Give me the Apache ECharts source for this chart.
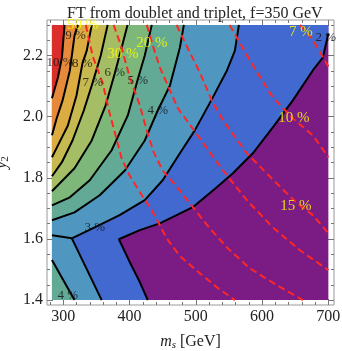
<!DOCTYPE html>
<html>
<head>
<meta charset="utf-8">
<script src="https://cdn.jsdelivr.net/npm/echarts@6/dist/echarts.min.js"></script>
<style>
html, body { margin: 0; padding: 0; background: #fff; }
#chart { width: 342px; height: 351px; }
</style>
</head>
<body>
<div id="chart"></div>
<script>
var chart = echarts.init(document.getElementById('chart'));
var serif = 'Liberation Serif';

// plot range and frame
var msRange = [283, 700];
var y2Range = [1.4, 2.3];
var frameMs = [275.5, 708.5];
var frameY2 = [1.384, 2.316];

// ticks
var msMajor = [300, 400, 500, 600, 700];
var msMinor = [280, 320, 340, 360, 380, 420, 440, 460, 480, 520, 540, 560, 580, 620, 640, 660, 680];
var y2Major = [1.4, 1.6, 1.8, 2.0, 2.2];
var y2Minor = [1.45, 1.5, 1.55, 1.65, 1.7, 1.75, 1.85, 1.9, 1.95, 2.05, 2.1, 2.15, 2.25, 2.3];

// FT contours (black), [m_s, y_2]
var ft10 = [[302, 2.3], [298, 2.193], [292, 2.128], [283, 2.06]];
var ft9 = [[322, 2.3], [317, 2.265], [310, 2.151], [299, 2.053], [290, 1.994], [283, 1.939]];
var ft8 = [[343, 2.3], [335.5, 2.216], [329, 2.174], [320, 2.069], [307, 1.971], [292, 1.906], [283, 1.867]];
var ft7 = [[367, 2.3], [356.6, 2.2], [344.5, 2.112], [331, 2.02], [314, 1.922], [298, 1.851], [283, 1.805]];
var ft6 = [[397, 2.3], [387, 2.216], [377.7, 2.141], [364, 2.037], [343, 1.922], [317, 1.831], [283, 1.756]];
var ft5 = [[433.6, 2.3], [423, 2.2], [412.5, 2.122], [397.4, 2.004], [373, 1.89], [340, 1.792], [310, 1.736], [283, 1.71]];
var ft4 = [[482, 2.3], [476, 2.226], [461, 2.102], [442.6, 2.02], [423, 1.922], [393, 1.824], [355, 1.743], [317, 1.687], [283, 1.661]];
var ft3 = [[565, 2.3], [559, 2.216], [547, 2.151], [525.7, 2.063], [498.5, 1.955], [476, 1.88], [450, 1.792], [423, 1.727], [385, 1.678], [347.5, 1.638], [313, 1.602], [358, 1.4]];
var ft3Left = [[283, 1.612], [313, 1.602]];
var ft2 = [[700, 2.272], [691.6, 2.193], [676.5, 2.151], [646.4, 2.053], [616.2, 1.965], [586, 1.88], [556, 1.815], [531.7, 1.769], [495.5, 1.704], [445.7, 1.651], [415.5, 1.629], [384, 1.599], [400.4, 1.524], [415.5, 1.459], [427.5, 1.4]];
var ft4Corner = [[283, 1.531], [317, 1.4]];

// second FT measure (red dashed)
var red50 = [[334, 2.3], [344.5, 2.197], [359.6, 2.109], [370, 2.011], [381, 1.922], [388, 1.864], [400, 1.808], [418.5, 1.743], [433.6, 1.694], [445.7, 1.645], [456, 1.602], [476, 1.544], [506, 1.488], [531.7, 1.442], [559, 1.4]];
var red30 = [[376, 2.3], [387, 2.233], [400.4, 2.128], [415.5, 2.037], [426, 1.955], [436.6, 1.883], [450, 1.824], [473, 1.766], [495.5, 1.704], [521, 1.635], [548, 1.57], [581.5, 1.504], [622, 1.449], [661.5, 1.4]];
var red20 = [[426, 2.3], [435, 2.233], [445.7, 2.161], [461, 2.086], [473, 2.027], [506, 1.929], [541, 1.824], [577, 1.727], [616, 1.638], [657, 1.563], [700, 1.498]];
var red15 = [[471, 2.3], [488, 2.223], [506, 2.145], [524, 2.053], [541, 1.988], [577, 1.88], [622, 1.782], [652.5, 1.717], [676.5, 1.678], [700, 1.619]];
var red10 = [[551, 2.3], [581.5, 2.184], [616, 2.063], [646.4, 1.994], [676.5, 1.939], [700, 1.867]];
var red7 = [[657, 2.3], [675, 2.256], [700, 2.164]];

// contour labels: text, m_s, y_2
var ftLabels = [
  ['10 %', 295, 2.177], ['9 %', 318.6, 2.265], ['8 %', 328.7, 2.174], ['7 %', 344.5, 2.112],
  ['6 %', 377.7, 2.143], ['5 %', 412.5, 2.118], ['4 %', 442.6, 2.02], ['3 %', 347.5, 1.638],
  ['2 %', 696, 2.259], ['4 %', 306.8, 1.416]
];
var redLabels = [
  ['50 %', 329.4, 2.301], ['30 %', 389.8, 2.203], ['20 %', 433.6, 2.242],
  ['7 %', 658.5, 2.275], ['10 %', 648, 1.994], ['15 %', 651, 1.707]
];

// band colours, low to high
var bandColors = ['#7a1c84', '#4169cf', '#4f97c0', '#62aa96', '#7db87a', '#a5be65', '#c6b94f', '#dcab42', '#e6893a', '#db2d29'];

var topLeft = [msRange[0], y2Range[1]];
var botLeft = [msRange[0], y2Range[0]];
var regions = [
  [[msRange[0], y2Range[0]], [msRange[1], y2Range[0]], [msRange[1], y2Range[1]], topLeft],
  [[msRange[1], y2Range[1]]].concat(ft2, [botLeft, topLeft]),
  ft3.concat([botLeft, topLeft]),
  ft4.concat([topLeft]),
  ft5.concat([topLeft]),
  ft6.concat([topLeft]),
  ft7.concat([topLeft]),
  ft8.concat([topLeft]),
  ft9.concat([topLeft]),
  ft10.concat([topLeft])
];

function region(points, color) {
  return {
    type: 'custom', silent: true, z: 1, data: [0],
    renderItem: function (params, api) {
      return {
        type: 'polygon',
        shape: { points: points.map(function (p) { return api.coord(p); }) },
        style: { fill: color }
      };
    }
  };
}
function contour(points) {
  return { type: 'line', data: points, symbol: 'none', silent: true, z: 3,
    lineStyle: { color: '#000', width: 2 } };
}
function dashed(points) {
  return { type: 'line', data: points, symbol: 'none', silent: true, z: 4,
    lineStyle: { color: '#ff2626', width: 2, type: [7, 4] } };
}
function labels(list, color, size) {
  return {
    type: 'scatter', symbolSize: 0, silent: true, z: 6,
    data: list.map(function (l) { return { name: l[0], value: [l[1], l[2]] }; }),
    label: { show: true, position: 'inside', formatter: '{b}', color: color,
      fontFamily: serif, fontSize: size }
  };
}

var series = [];
regions.forEach(function (pts, i) {
  series.push(region(pts, bandColors[i]));
  if (i === 3) series.push(region([ft4Corner[0], ft4Corner[1], botLeft], bandColors[3]));
});
[ft10, ft9, ft8, ft7, ft6, ft5, ft4, ft3, ft3Left, ft2, ft4Corner].forEach(function (c) {
  series.push(contour(c));
});
[red50, red30, red20, red15, red10, red7].forEach(function (c) {
  series.push(dashed(c));
});
series.push(labels(ftLabels, '#111', 13));
series.push(labels(redLabels, '#ffff00', 15));

function tickAxis(kind, pos, vals, len, withLabels) {
  var ax = {
    type: 'value', position: pos,
    min: kind === 'x' ? frameMs[0] : frameY2[0],
    max: kind === 'x' ? frameMs[1] : frameY2[1],
    axisLine: { show: false }, splitLine: { show: false },
    axisTick: { show: true, inside: true, length: len, customValues: vals,
      lineStyle: { color: '#777', width: 1 } },
    axisLabel: { show: false }
  };
  if (withLabels) {
    ax.axisLabel = { show: true, customValues: vals, margin: 4, color: '#222',
      fontFamily: serif, fontSize: 16,
      formatter: function (v) { return kind === 'x' ? String(v) : v.toFixed(1); } };
  }
  return ax;
}

var richName = {
  i: { fontFamily: serif, fontSize: 16, fontStyle: 'italic', color: '#222' },
  sub: { fontFamily: serif, fontSize: 11, fontStyle: 'italic', color: '#222', padding: [7, 0, 0, 0] },
  subUp: { fontFamily: serif, fontSize: 11, color: '#222', padding: [7, 0, 0, 0] },
  n: { fontFamily: serif, fontSize: 16, color: '#222' }
};

var xAxes = [
  tickAxis('x', 'bottom', msMajor, 6, true),
  tickAxis('x', 'bottom', msMinor, 3),
  tickAxis('x', 'top', msMajor, 6),
  tickAxis('x', 'top', msMinor, 3)
];
xAxes[0].name = '{i|m}{sub|s}{n| [GeV]}';
xAxes[0].nameLocation = 'middle';
xAxes[0].nameGap = 28;
xAxes[0].nameTextStyle = { fontFamily: serif, fontSize: 16, color: '#222', rich: richName };

var yAxes = [
  tickAxis('y', 'left', y2Major, 6, true),
  tickAxis('y', 'left', y2Minor, 3),
  tickAxis('y', 'right', y2Major, 6),
  tickAxis('y', 'right', y2Minor, 3)
];
yAxes[0].name = '{i|y}{subUp|2}';
yAxes[0].nameLocation = 'middle';
yAxes[0].nameGap = 36;
yAxes[0].nameTextStyle = { fontFamily: serif, fontSize: 16, color: '#222', rich: richName };

var option = {
  animation: false,
  backgroundColor: '#fff',
  title: {
    text: 'FT from doublet and triplet, f=350 GeV',
    left: 62, top: 1,
    textStyle: { fontFamily: serif, fontSize: 16, fontWeight: 'normal', color: '#222' }
  },
  grid: { left: 47, right: 8, top: 20, bottom: 46, show: true,
    outerBoundsMode: 'none', containLabel: false,
    borderColor: '#999', borderWidth: 1, backgroundColor: '#fff' },
  xAxis: xAxes,
  yAxis: yAxes,
  series: series
};

chart.setOption(option);
window.onresize = chart.resize;
</script>
</body>
</html>
